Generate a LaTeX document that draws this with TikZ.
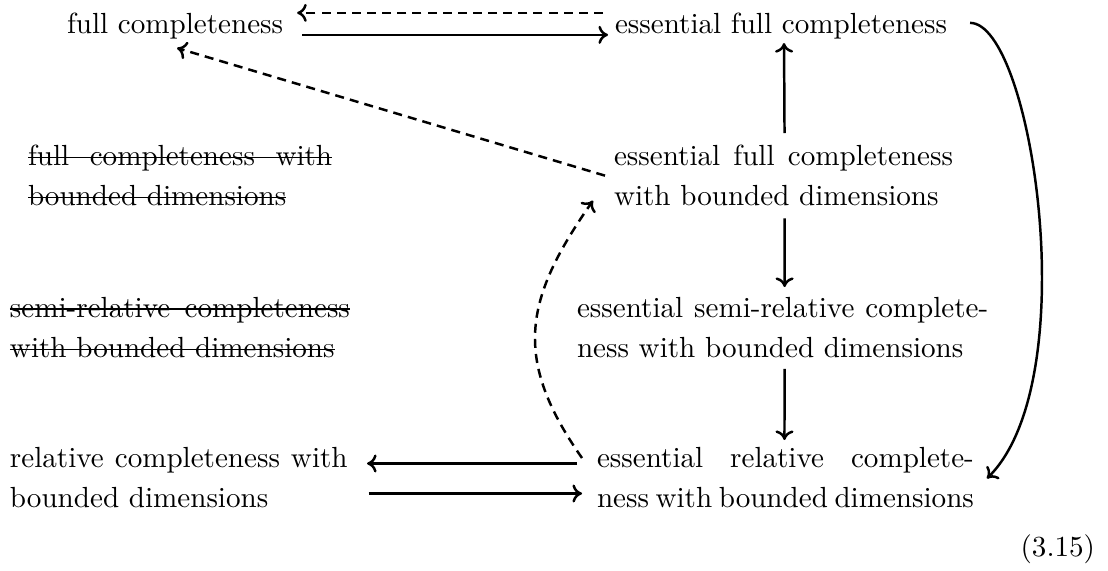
\documentclass[tikz,border=0pt]{standalone}
\usetikzlibrary{arrows.meta}
\hbadness=10000
\hfuzz=5pt
\newcommand\StrikeFull[1]{\noindent\rlap{\rule[2.6pt]{\hsize}{0.4pt}}\makebox[\hsize][s]{#1}}
\newcommand\StrikeNat[1]{\noindent\setbox0\hbox{#1}\rlap{\rule[2.6pt]{\wd0}{0.4pt}}\box0}
\newcommand\FullLine[1]{\noindent\makebox[\hsize][s]{#1}}
\tikzset{
  lbl/.style={inner sep=0pt, outer sep=0pt, font=\fontsize{10}{13.9}\selectfont},
  txtbox/.style={lbl, align=justify, text width=#1, anchor=north west},
  arr/.style={-{Computer Modern Rightarrow[length=3.3pt,width=6.2pt]}, line width=0.85pt},
  darr/.style={arr, dash pattern=on 3.1pt off 2.1pt},
}
\begin{document}
\begin{tikzpicture}[x=0.3436pt,y=-0.3436pt]
\useasboundingbox (0,0) rectangle (1108,570);
% nodes
\node[lbl, anchor=base west] (FC)  at (67,33)  {full completeness};
\node[lbl, anchor=base west] (EFC) at (615,33) {essential full completeness};
\node[txtbox=104.5pt] (FCB) at (28,145) {\StrikeFull{full completeness with}\par\StrikeNat{bounded dimensions}};
\node[txtbox=116.5pt] (EFB) at (614,145) {\FullLine{essential full completeness}\par\noindent with bounded dimensions};
\node[txtbox=116.8pt] (SRB) at (10,297) {\StrikeFull{semi-relative completeness}\par\StrikeNat{with bounded dimensions}};
\node[txtbox=141.3pt] (SRE) at (577,297) {\FullLine{essential semi-relative complete-}\par\noindent ness with bounded dimensions};
\node[txtbox=116pt] (RCB) at (10,447) {\FullLine{relative completeness with}\par\noindent bounded dimensions};
\node[txtbox=129.5pt] (ERE) at (597,447) {\FullLine{essential relative complete-}\par\FullLine{ness with bounded dimensions}};
\node[lbl, anchor=base east] (EQ) at (1095,556) {(3.15)};
% connectors
\draw[darr] ([shift={(-12,-12.7)}]EFC.west) -- ([shift={(14,-12.7)}]FC.east);
\draw[arr] ([shift={(19,9.3)}]FC.east) -- ([shift={(-7,9.3)}]EFC.west);
\draw[darr] ([shift={(-9,0)}]EFB.west) -- ([shift={(2,9.4)}]FC.south);
\draw[darr] ([shift={(-15,11)}]ERE.north west) .. controls +(-69.4,-99.1) and +(-69.4,99.1) .. ([shift={(-21,25)}]EFB.west);
\draw[arr] ([shift={(1,-12)}]EFB.north) -- ([shift={(3,4.4)}]EFC.south);
\draw[arr] ([shift={(1,12)}]EFB.south) -- ([shift={(2,-10)}]SRE.north);
\draw[arr] ([shift={(2,11)}]SRE.south) -- ([shift={(-1,-7)}]ERE.north);
\draw[arr] ([shift={(-20,-14)}]ERE.west) -- ([shift={(19.4,-14)}]RCB.east);
\draw[arr] ([shift={(21,16)}]RCB.east) -- ([shift={(-15,16)}]ERE.west);
\draw[arr] ([shift={(23,-2.7)}]EFC.east) .. controls +(62,0) and +(99,-98) .. ([shift={(13,1)}]ERE.east);
\end{tikzpicture}
\end{document}
